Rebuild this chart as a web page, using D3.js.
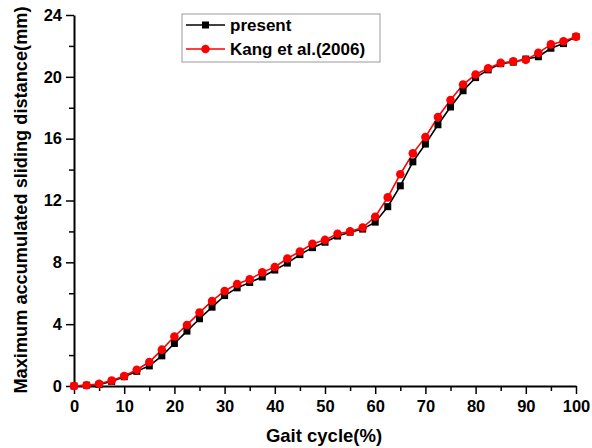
<!DOCTYPE html>
<html><head><meta charset="utf-8">
<script src="https://cdn.jsdelivr.net/npm/d3@7"></script>
<style>body{margin:0;background:#fff}svg{display:block}</style>
</head><body>
<svg id="c" width="592" height="448"></svg>
<script>
const gait = [0,2.5,5,7.5,10,12.5,15,17.5,20,22.5,25,27.5,30,32.5,35,37.5,40,42.5,45,47.5,50,52.5,55,57.5,60,62.5,65,67.5,70,72.5,75,77.5,80,82.5,85,87.5,90,92.5,95,97.5,100];
const present = [0,0.05,0.1,0.3,0.6,0.95,1.3,1.95,2.75,3.55,4.35,5.1,5.85,6.35,6.7,7.05,7.5,7.95,8.5,8.95,9.3,9.7,9.95,10.15,10.6,11.6,12.95,14.5,15.65,16.9,18.05,19.1,19.95,20.45,20.85,20.95,21.15,21.3,21.85,22.15,22.6];
const kang = [0,0.05,0.15,0.35,0.65,1.05,1.55,2.35,3.2,3.95,4.75,5.5,6.15,6.6,6.9,7.35,7.7,8.25,8.7,9.2,9.45,9.85,10.0,10.25,10.95,12.2,13.7,15.05,16.1,17.4,18.5,19.5,20.15,20.55,20.9,21.0,21.1,21.55,22.1,22.3,22.6];
const xTicks = [0,10,20,30,40,50,60,70,80,90,100];
const yTicks = [0,4,8,12,16,20,24];
const seriesNames = ["present","Kang et al.(2006)"];
const seriesColors = ["#000000","#ff0000"];

const svg = d3.select("#c");
const font = "'Liberation Sans', Arial, sans-serif";
const x = d3.scaleLinear().domain([0,100]).range([74,576]);
const y = d3.scaleLinear().domain([0,24]).range([386,15]);

// minor ticks
svg.append("g").attr("transform","translate(0,386)")
  .call(d3.axisBottom(x).tickValues(d3.range(5,100,10)).tickSize(5).tickFormat(""))
  .call(g=>g.select(".domain").remove());
svg.append("g").attr("transform","translate(74,0)")
  .call(d3.axisLeft(y).tickValues(d3.range(2,24,4)).tickSize(5).tickFormat(""))
  .call(g=>g.select(".domain").remove());

const xa = svg.append("g").attr("transform","translate(0,386)")
  .call(d3.axisBottom(x).tickValues(xTicks).tickSize(8).tickSizeOuter(0).tickPadding(6));
const ya = svg.append("g").attr("transform","translate(74,0)")
  .call(d3.axisLeft(y).tickValues(yTicks).tickSize(8).tickSizeOuter(0).tickPadding(4));
svg.selectAll(".tick line").attr("stroke","#000").attr("stroke-width",1.5);
svg.selectAll(".domain").attr("stroke","#000").attr("stroke-width",2);
[xa,ya].forEach(a=>a.selectAll("text").attr("font-family",font).attr("font-weight","bold").attr("font-size",16.5).attr("fill","#000"));

svg.append("text").attr("x",324).attr("y",442).attr("text-anchor","middle")
  .attr("font-family",font).attr("font-weight","bold").attr("font-size",18.5).text("Gait cycle(%)");
svg.append("text").attr("transform","translate(27,200) rotate(-90)").attr("text-anchor","middle")
  .attr("font-family",font).attr("font-weight","bold").attr("font-size",18.2).text("Maximum accumulated sliding distance(mm)");

const line = d3.line().x((d,i)=>x(gait[i])).y(d=>y(d));
const sets = [present,kang];
sets.forEach((vals,k)=>{
  svg.append("path").datum(vals).attr("d",line).attr("fill","none")
    .attr("stroke",seriesColors[k]).attr("stroke-width",1.6);
});
svg.append("g").selectAll("rect").data(present).join("rect")
  .attr("x",(d,i)=>x(gait[i])-3.5).attr("y",d=>y(d)-3.5).attr("width",7).attr("height",7).attr("fill","#000");
svg.append("g").selectAll("circle").data(kang).join("circle")
  .attr("cx",(d,i)=>x(gait[i])).attr("cy",d=>y(d)).attr("r",4.3).attr("fill","#ff0000");

// legend
const lg = svg.append("g");
lg.append("rect").attr("x",182).attr("y",14).attr("width",198).attr("height",48)
  .attr("fill","#fff").attr("stroke","#999").attr("stroke-width",1);
seriesNames.forEach((n,k)=>{
  const yy = 25 + k*24;
  lg.append("line").attr("x1",186).attr("x2",225).attr("y1",yy).attr("y2",yy)
    .attr("stroke",seriesColors[k]).attr("stroke-width",1.6);
  if(k===0) lg.append("rect").attr("x",202).attr("y",yy-3.5).attr("width",7).attr("height",7).attr("fill","#000");
  else lg.append("circle").attr("cx",205.5).attr("cy",yy).attr("r",4.3).attr("fill","#ff0000");
  lg.append("text").attr("x",230).attr("y",yy+6).attr("font-family",font).attr("font-weight","bold")
    .attr("font-size",17).text(n);
});
</script>
</body></html>
